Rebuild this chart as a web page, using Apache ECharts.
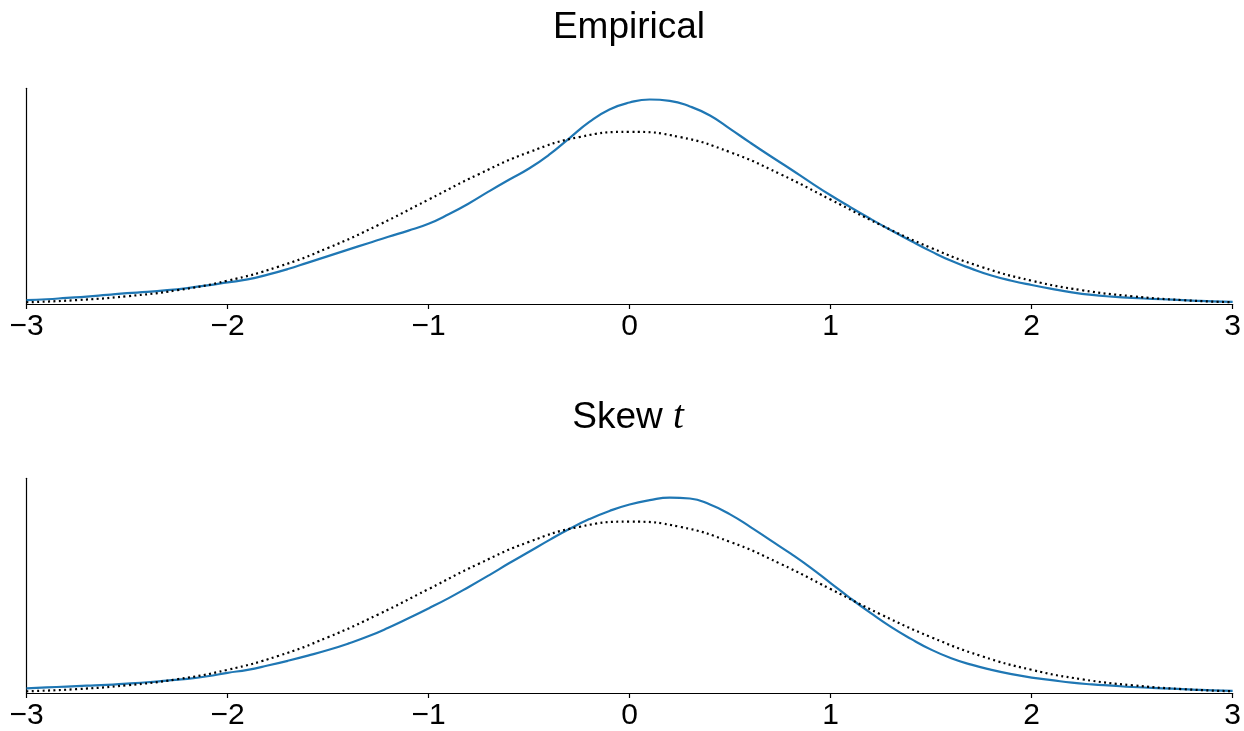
<!DOCTYPE html>
<html>
<head>
<meta charset="utf-8">
<script src="https://cdn.jsdelivr.net/npm/echarts@6/dist/echarts.min.js"></script>
<style>
html,body{margin:0;padding:0;background:#fff;}
#chart{width:1244px;height:731px;}
</style>
</head>
<body>
<div id="chart"></div>
<script>
// x tick labels
const xTicks = [-3, -2, -1, 0, 1, 2, 3];

// sample positions for the blue curves (0.1 apart)
const densX = [-3.0,-2.9,-2.8,-2.7,-2.6,-2.5,-2.4,-2.3,-2.2,-2.1,-2.0,-1.9,-1.8,-1.7,-1.6,-1.5,-1.4,-1.3,-1.2,-1.1,-1.0,-0.9,-0.8,-0.7,-0.6,-0.5,-0.4,-0.3,-0.2,-0.1,0.0,0.1,0.2,0.3,0.4,0.5,0.6,0.7,0.8,0.9,1.0,1.1,1.2,1.3,1.4,1.5,1.6,1.7,1.8,1.9,2.0,2.1,2.2,2.3,2.4,2.5,2.6,2.7,2.8,2.9,3.0];

// Empirical density (blue)
const empY = [0.009,0.011,0.014,0.017,0.021,0.025,0.028,0.032,0.037,0.043,0.050,0.057,0.068,0.081,0.096,0.111,0.126,0.141,0.156,0.170,0.186,0.208,0.233,0.261,0.288,0.314,0.346,0.384,0.422,0.451,0.467,0.474,0.471,0.458,0.437,0.406,0.374,0.343,0.313,0.282,0.252,0.224,0.197,0.171,0.146,0.122,0.100,0.082,0.066,0.054,0.044,0.035,0.027,0.021,0.017,0.014,0.012,0.010,0.008,0.006,0.005];

// Skew t density (blue)
const skewY = [0.011,0.013,0.015,0.017,0.019,0.022,0.025,0.029,0.033,0.039,0.047,0.054,0.064,0.075,0.087,0.100,0.115,0.132,0.152,0.174,0.197,0.221,0.247,0.274,0.302,0.329,0.356,0.382,0.405,0.424,0.439,0.449,0.455,0.453,0.439,0.416,0.387,0.356,0.325,0.292,0.256,0.220,0.186,0.154,0.126,0.101,0.081,0.066,0.054,0.044,0.036,0.030,0.024,0.020,0.017,0.014,0.012,0.010,0.008,0.006,0.005];

// Reference normal density (black dotted)
const normX = [-3,-2.75,-2.5,-2.25,-2,-1.75,-1.5,-1.25,-1,-0.75,-0.5,-0.25,0,0.25,0.5,0.75,1,1.25,1.5,1.75,2,2.25,2.5,2.75,3];
const normY = [0.004,0.009,0.018,0.032,0.054,0.086,0.130,0.183,0.242,0.301,0.352,0.387,0.399,0.387,0.352,0.301,0.242,0.183,0.130,0.086,0.054,0.032,0.018,0.009,0.004];

const zip = (xs, ys) => xs.map((x, i) => [x, ys[i]]);
const FONT = 'Liberation Sans';
const fmt = v => (v < 0 ? '\u2212' + Math.abs(v) : String(v));

function xAxisCfg(idx) {
  return {
    type: 'value', gridIndex: idx, min: xTicks[0], max: xTicks[xTicks.length - 1], interval: 1,
    axisLine: { show: true, onZero: false, lineStyle: { color: '#000', width: 1.2 } },
    axisTick: { show: true, length: 5, lineStyle: { color: '#000', width: 1.2 } },
    axisLabel: { show: true, color: '#000', fontSize: 30, fontFamily: FONT, margin: 8, formatter: fmt },
    splitLine: { show: false }
  };
}
function yAxisCfg(idx) {
  return {
    type: 'value', gridIndex: idx, min: 0, max: 0.5,
    axisLine: { show: true, onZero: false, lineStyle: { color: '#000', width: 1.2 } },
    axisTick: { show: false }, axisLabel: { show: false }, splitLine: { show: false }
  };
}
const blueStyle = { color: '#1f77b4', width: 2.2 };
const dotStyle = { color: '#000', width: 2.2, type: [2, 3.4], cap: 'butt' };
const lineBase = { type: 'line', smooth: 0.5, showSymbol: false };

const chart = echarts.init(document.getElementById('chart'), null, { renderer: 'canvas' });
chart.setOption({
  animation: false,
  backgroundColor: '#fff',
  title: [
    { text: 'Empirical', left: 624, top: 4, textAlign: 'center',
      textStyle: { fontFamily: FONT, fontSize: 37, fontWeight: 'normal', color: '#000' } },
    { text: '{a|Skew }{b|t}', left: 623, top: 393, textAlign: 'center',
      textStyle: { fontWeight: 'normal', rich: {
        a: { fontFamily: FONT, fontSize: 37, fontWeight: 'normal', color: '#000' },
        b: { fontFamily: 'Liberation Serif', fontStyle: 'italic', fontWeight: 'normal', fontSize: 39, color: '#000' }
      } } }
  ],
  grid: [
    { left: 26.5, right: 10.7, top: 88.3, height: 215.7, containLabel: false },
    { left: 26.5, right: 10.7, top: 478.3, height: 215.7, containLabel: false }
  ],
  xAxis: [xAxisCfg(0), xAxisCfg(1)],
  yAxis: [yAxisCfg(0), yAxisCfg(1)],
  series: [
    Object.assign({}, lineBase, { xAxisIndex: 0, yAxisIndex: 0, data: zip(densX, empY), lineStyle: blueStyle, z: 2 }),
    Object.assign({}, lineBase, { xAxisIndex: 0, yAxisIndex: 0, data: zip(normX, normY), lineStyle: dotStyle, z: 3 }),
    Object.assign({}, lineBase, { xAxisIndex: 1, yAxisIndex: 1, data: zip(densX, skewY), lineStyle: blueStyle, z: 2 }),
    Object.assign({}, lineBase, { xAxisIndex: 1, yAxisIndex: 1, data: zip(normX, normY), lineStyle: dotStyle, z: 3 })
  ]
});
</script>
</body>
</html>
